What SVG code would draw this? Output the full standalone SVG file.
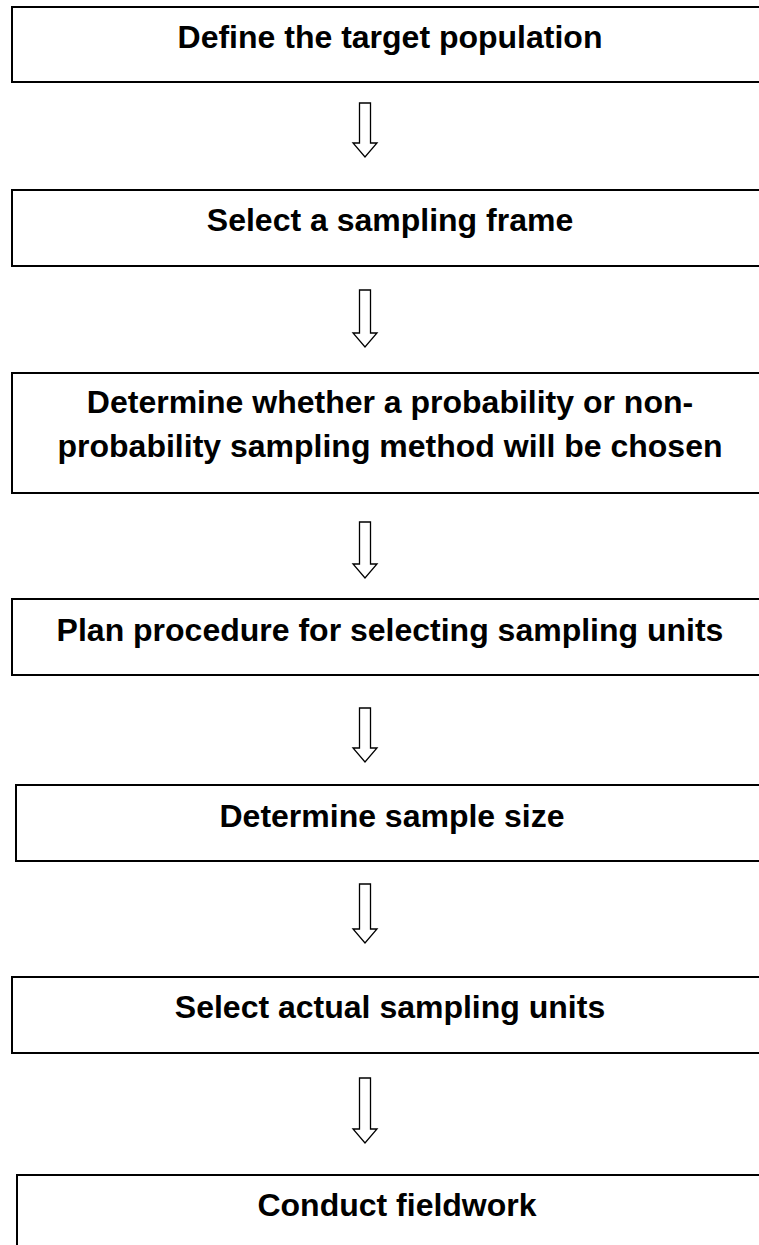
<svg xmlns="http://www.w3.org/2000/svg" width="759" height="1245" viewBox="0 0 759 1245">
<style>
.box{fill:#fff;stroke:#000;stroke-width:2}
.lbl{font-family:"Liberation Sans",Arial,sans-serif;font-weight:bold;font-size:32px;fill:#000;text-anchor:middle}
.arr{fill:#fff;stroke:#000;stroke-width:1.3;stroke-linejoin:miter}
</style>
<rect width="759" height="1245" fill="#fff"/>
<g id="connectors">
<path class="arr" d="M359.5,103 H370.5 V143 H377 L365,157 L353,143 H359.5 Z"/>
<path class="arr" d="M359.5,290 H370.5 V333 H377 L365,347 L353,333 H359.5 Z"/>
<path class="arr" d="M359.5,522 H370.5 V564 H377 L365,578 L353,564 H359.5 Z"/>
<path class="arr" d="M359.5,708 H370.5 V748 H377 L365,762 L353,748 H359.5 Z"/>
<path class="arr" d="M359.5,884 H370.5 V929 H377 L365,943 L353,929 H359.5 Z"/>
<path class="arr" d="M359.5,1078 H370.5 V1129 H377 L365,1143 L353,1129 H359.5 Z"/>
</g>
<g id="n1"><rect class="box" x="12" y="7" width="800" height="75"/><text class="lbl" x="390" y="48">Define the target population</text></g>
<g id="n2"><rect class="box" x="12" y="190" width="800" height="76"/><text class="lbl" x="390" y="231">Select a sampling frame</text></g>
<g id="n3"><rect class="box" x="12" y="373" width="800" height="120"/><text class="lbl" x="390" y="413">Determine whether a probability or non-</text><text class="lbl" x="390" y="457">probability sampling method will be chosen</text></g>
<g id="n4"><rect class="box" x="12" y="599" width="800" height="76"/><text class="lbl" x="390" y="641">Plan procedure for selecting sampling units</text></g>
<g id="n5"><rect class="box" x="16" y="785" width="800" height="76"/><text class="lbl" x="392" y="827">Determine sample size</text></g>
<g id="n6"><rect class="box" x="12" y="977" width="800" height="76"/><text class="lbl" x="390" y="1018">Select actual sampling units</text></g>
<g id="n7"><rect class="box" x="17" y="1175" width="800" height="120"/><text class="lbl" x="397" y="1216">Conduct fieldwork</text></g>
</svg>
